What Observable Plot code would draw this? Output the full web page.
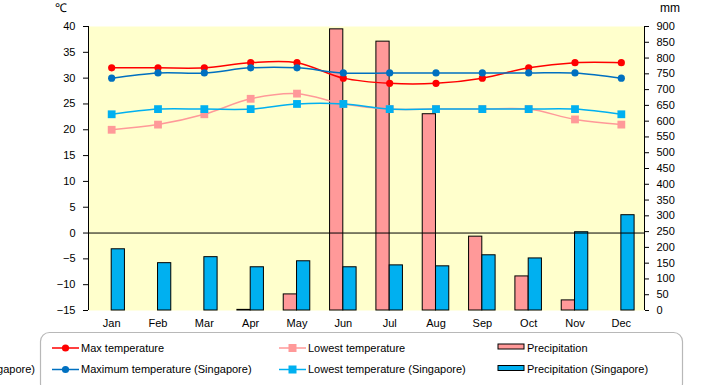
<!DOCTYPE html>
<html><head><meta charset="utf-8">
<script src="https://cdn.jsdelivr.net/npm/d3@7"></script>
<script src="https://cdn.jsdelivr.net/npm/@observablehq/plot@0.6"></script>
<style>
body{margin:0;background:#fff}
#chart{width:720px;height:385px;overflow:hidden;position:relative}
</style>
</head><body><div id="chart"></div>
<script>
const months = ["Jan","Feb","Mar","Apr","May","Jun","Jul","Aug","Sep","Oct","Nov","Dec"];
const maxTemp   = [32,32,32,33,33,30,29,29,30,32,33,33];
const lowTemp   = [20,21,23,26,27,25,24,24,24,24,22,21];
const maxTempSg = [30,31,31,32,32,31,31,31,31,31,31,30];
const lowTempSg = [23,24,24,24,25,25,24,24,24,24,24,23];
const precip    = [0,0,0,2,51,891,852,622,234,108,32,0];
const precipSg  = [194,150,169,137,156,137,143,140,175,165,248,302];
const tempTicks = d3.range(-15, 41, 5);
const mmTicks   = d3.range(0, 901, 50);

const toT = mm => -15 + mm * 55 / 900;
const rows = months.map((m, i) => ({i, m, maxTemp: maxTemp[i], lowTemp: lowTemp[i], maxTempSg: maxTempSg[i], lowTempSg: lowTempSg[i], precip: precip[i], precipSg: precipSg[i]}));

const FONT = "'Liberation Sans', Arial, sans-serif";
const C = {red:"#FF0000", pink:"#FF9999", blue:"#0070C0", lblue:"#00B0F0", bg:"#FFFFCC"};

const chart = Plot.plot({
  width: 720, height: 385,
  marginLeft: 88, marginRight: 76, marginTop: 26, marginBottom: 75,
  style: {fontFamily: FONT, fontSize: "11px", background: "white", color: "black", overflow: "visible"},
  x: {type: "linear", domain: [-0.5, 11.5]},
  y: {domain: [-15, 40]},
  marks: [
    Plot.frame({fill: C.bg, stroke: null}),
    Plot.rect(rows.filter(d => d.precip > 0), {x1: d => d.i - 0.5, x2: d => d.i + 0.5, y1: -15, y2: d => toT(d.precip), insetLeft: 9.9, insetRight: 23.2, fill: C.pink, stroke: "black", strokeWidth: 1}),
    Plot.rect(rows, {x1: d => d.i - 0.5, x2: d => d.i + 0.5, y1: -15, y2: d => toT(d.precipSg), insetLeft: 23.2, insetRight: 9.9, fill: C.lblue, stroke: "black", strokeWidth: 1}),
    Plot.ruleY([0], {stroke: "black", strokeWidth: 1}),
    Plot.ruleX([-0.5, 11.5], {stroke: "black", strokeWidth: 1}),
    Plot.line(rows, {x: "i", y: "maxTemp", stroke: C.red, strokeWidth: 1.5, curve: "catmull-rom"}),
    Plot.dot(rows, {x: "i", y: "maxTemp", r: 3.6, fill: C.red}),
    Plot.line(rows, {x: "i", y: "lowTemp", stroke: C.pink, strokeWidth: 1.5, curve: "catmull-rom"}),
    Plot.dot(rows, {x: "i", y: "lowTemp", r: 4.4, symbol: "square", fill: C.pink}),
    Plot.line(rows, {x: "i", y: "maxTempSg", stroke: C.blue, strokeWidth: 1.5, curve: "catmull-rom"}),
    Plot.dot(rows, {x: "i", y: "maxTempSg", r: 3.6, fill: C.blue}),
    Plot.line(rows, {x: "i", y: "lowTempSg", stroke: C.lblue, strokeWidth: 1.5, curve: "catmull-rom"}),
    Plot.dot(rows, {x: "i", y: "lowTempSg", r: 4.4, symbol: "square", fill: C.lblue}),
    Plot.axisY({anchor: "left", ticks: tempTicks, tickSize: 5, tickPadding: 8, fontSize: 11, label: null}),
    Plot.axisY({anchor: "right", ticks: mmTicks.map(toT), tickSize: 4, tickPadding: 8, fontSize: 11, label: null, tickFormat: d => String(Math.round((d + 15) * 900 / 55))}),
    Plot.axisX({anchor: "bottom", ticks: d3.range(12), tickSize: 0, tickPadding: 9, fontSize: 11, label: null, tickFormat: i => months[i]})
  ]
});

const svg = d3.select(chart);
svg.append("text").attr("x", 61).attr("y", 12).attr("text-anchor", "middle").attr("font-size", 12).text("℃");
svg.append("text").attr("x", 670).attr("y", 12).attr("text-anchor", "middle").attr("font-size", 12).text("mm");

// legend
const lg = svg.append("g").attr("font-family", FONT).attr("font-size", 11).attr("text-anchor", "start");
lg.append("text").attr("x", 35).attr("y", 369.5).attr("dy", "0.35em").attr("text-anchor", "end").text("Precipitation (Singapore)");
lg.append("rect").attr("x", 40.5).attr("y", 332.5).attr("width", 642).attr("height", 60).attr("rx", 9).attr("fill", "white").attr("stroke", "#b8b8b8").attr("stroke-width", 1.2);
const items = [
  {label: "Max temperature", color: C.red, kind: "circle", x: 52, y: 348},
  {label: "Lowest temperature", color: C.pink, kind: "square", x: 279, y: 348},
  {label: "Precipitation", color: C.pink, kind: "bar", x: 498, y: 348},
  {label: "Maximum temperature (Singapore)", color: C.blue, kind: "circle", x: 52, y: 369.5},
  {label: "Lowest temperature (Singapore)", color: C.lblue, kind: "square", x: 279, y: 369.5},
  {label: "Precipitation (Singapore)", color: C.lblue, kind: "bar", x: 498, y: 369.5}
];
for (const it of items) {
  if (it.kind === "bar") {
    lg.append("rect").attr("x", it.x).attr("y", it.y - 4).attr("width", 26).attr("height", 5).attr("fill", it.color).attr("stroke", "black");
  } else {
    lg.append("line").attr("x1", it.x).attr("x2", it.x + 27).attr("y1", it.y).attr("y2", it.y).attr("stroke", it.color).attr("stroke-width", 1.5);
    if (it.kind === "circle") lg.append("circle").attr("cx", it.x + 13.5).attr("cy", it.y).attr("r", 3.6).attr("fill", it.color);
    else lg.append("rect").attr("x", it.x + 9.5).attr("y", it.y - 4).attr("width", 8).attr("height", 8).attr("fill", it.color);
  }
  lg.append("text").attr("x", it.x + 29).attr("y", it.y).attr("dy", "0.35em").attr("text-anchor", "start").text(it.label);
}
document.getElementById("chart").appendChild(chart);
</script>
</body></html>
